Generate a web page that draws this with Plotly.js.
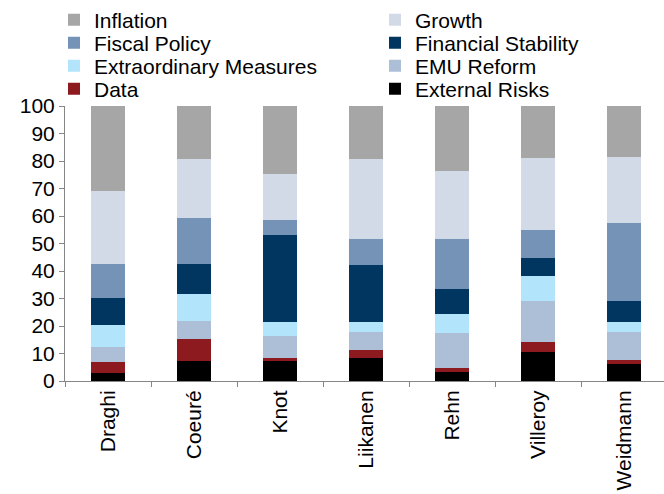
<!DOCTYPE html>
<html>
<head>
<meta charset="utf-8">
<script src="https://cdn.plot.ly/plotly-3.0.1.min.js"></script>
<style>
html,body{margin:0;padding:0;background:#fff;}
#chart{width:664px;height:494px;}
</style>
</head>
<body>
<div id="chart"></div>
<script>
const governors = ["Draghi", "Coeuré", "Knot", "Liikanen", "Rehn", "Villeroy", "Weidmann"];

// series listed bottom-to-top of the stack
const externalRisks = [3.0, 7.4, 7.4, 8.5, 3.4, 10.5, 6.3];
const data = [3.9, 8.0, 1.1, 2.6, 1.2, 3.8, 1.2];
const emuReform = [5.6, 6.5, 7.8, 6.8, 13.0, 14.9, 10.4];
const extraordinaryMeasures = [7.8, 9.9, 5.1, 3.6, 6.9, 8.9, 3.6];
const financialStability = [9.8, 10.7, 31.7, 20.8, 8.8, 6.7, 7.7];
const fiscalPolicy = [12.4, 16.8, 5.4, 9.3, 18.3, 10.2, 28.2];
const growth = [26.5, 21.5, 16.6, 29.2, 24.8, 26.1, 24.1];
const inflation = [31.0, 19.2, 24.9, 19.2, 23.6, 18.9, 18.5];

const yTicks = [0, 10, 20, 30, 40, 50, 60, 70, 80, 90, 100];

// legend slot: [column, row]
const series = [
  {name: "External Risks", y: externalRisks, color: "#000000", slot: [1, 3]},
  {name: "Data", y: data, color: "#8c1a1e", slot: [0, 3]},
  {name: "EMU Reform", y: emuReform, color: "#adbfd6", slot: [1, 2]},
  {name: "Extraordinary Measures", y: extraordinaryMeasures, color: "#b2e4fb", slot: [0, 2]},
  {name: "Financial Stability", y: financialStability, color: "#00365f", slot: [1, 1]},
  {name: "Fiscal Policy", y: fiscalPolicy, color: "#7593b6", slot: [0, 1]},
  {name: "Growth", y: growth, color: "#d3dae7", slot: [1, 0]},
  {name: "Inflation", y: inflation, color: "#a6a6a6", slot: [0, 0]}
];

const font = {family: "Liberation Sans, Arial, sans-serif", color: "#000000"};
const legendFont = {family: font.family, size: 21, color: "#000"};
const colX = [64, 385];
const rowY = [20, 43, 66, 89];

const layout = {
  width: 664,
  height: 494,
  margin: {l: 65, r: 0, t: 106, b: 113, autoexpand: false},
  paper_bgcolor: "#ffffff",
  plot_bgcolor: "#ffffff",
  font: font,
  barmode: "stack",
  bargap: 0.61,
  showlegend: true,
  xaxis: {
    type: "category",
    range: [-0.5, 6.465],
    tickangle: -90,
    tickfont: {size: 21, family: font.family, color: "#000"},
    showline: true,
    linecolor: "#868686",
    linewidth: 1,
    ticks: "outside",
    tickson: "boundaries",
    ticklen: 5,
    tickcolor: "#868686",
    showgrid: false,
    zeroline: false,
    fixedrange: true
  },
  yaxis: {
    range: [0, 100],
    tickvals: yTicks,
    ticktext: yTicks.map(String),
    tickfont: {size: 21, family: font.family, color: "#000"},
    showline: true,
    linecolor: "#868686",
    linewidth: 1,
    ticks: "outside",
    ticklen: 5,
    tickcolor: "#868686",
    showgrid: false,
    zeroline: false,
    fixedrange: true
  }
};

const traces = series.map((s, i) => {
  const key = i === 0 ? "legend" : "legend" + (i + 1);
  layout[key] = {
    orientation: "v",
    xref: "container", yref: "container",
    x: colX[s.slot[0]] / 664, xanchor: "left",
    y: 1 - rowY[s.slot[1]] / 494, yanchor: "middle",
    indentation: -10,
    font: legendFont,
    bgcolor: "rgba(0,0,0,0)",
    borderwidth: 0
  };
  return {
    type: "bar",
    name: s.name,
    x: governors,
    y: s.y,
    legend: key,
    marker: {color: s.color, line: {width: 0}},
    hoverinfo: "name+y"
  };
});

Plotly.newPlot("chart", traces, layout, {displayModeBar: false, staticPlot: true});
</script>
</body>
</html>
